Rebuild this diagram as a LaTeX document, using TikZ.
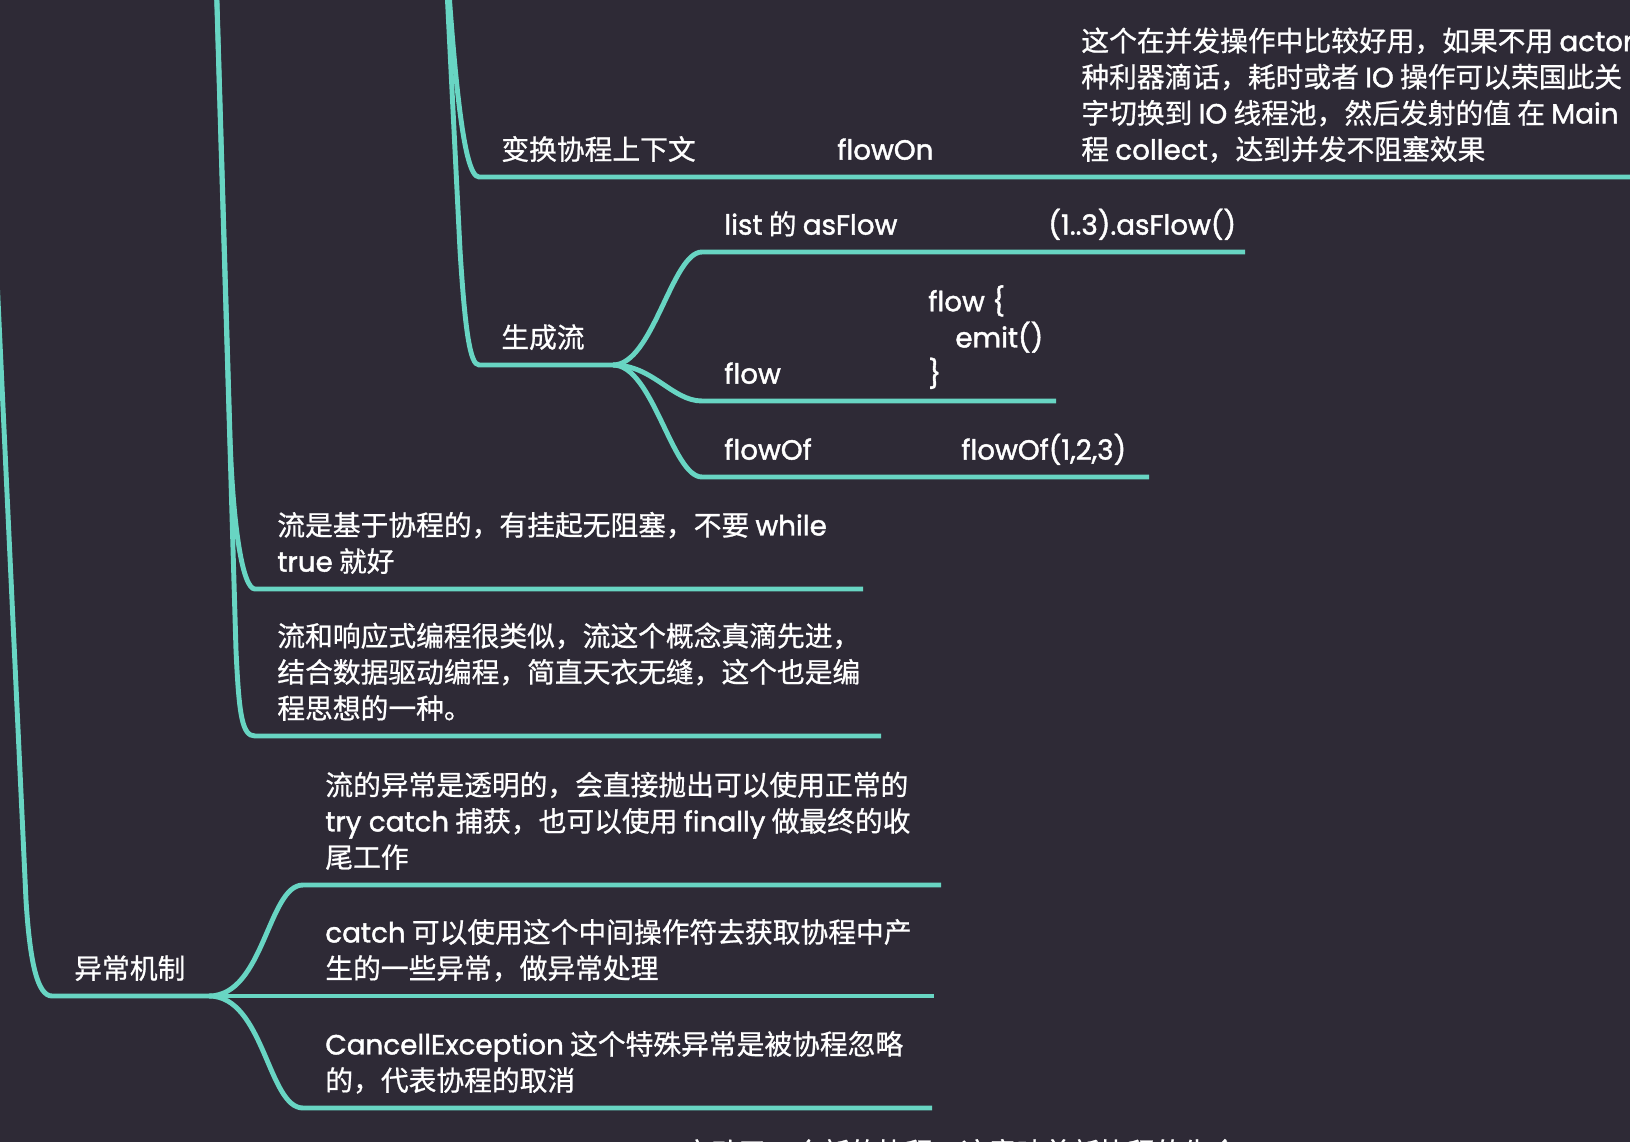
\documentclass[tikz,border=0pt]{standalone}
\usepackage{fontspec}
\setmainfont{Noto Sans CJK SC}[FakeBold=0.8]
\newfontfamily\latfont{Poppins}[FakeBold=1.5]
\newcommand\lat[1]{{\latfont #1}}
\definecolor{mapbg}{HTML}{2E2A36}
\definecolor{mapline}{HTML}{68D5C3}

\begin{document}
\begin{tikzpicture}[x=0.02cm,y=-0.02cm,
  topic/.style={anchor=south west,inner xsep=0.44cm,inner ysep=0.34cm,
    text depth=0pt,align=left,text=white,
    font=\fontsize{15.8}{20.6}\selectfont},
  branch/.style={draw=mapline,line width=2.8pt}]
%Background first, then every topic sits on its own underline;
% the branches come down from parents above the page, so
% their upper ends are plain coordinates (pa), (pb), (pc).
\fill[mapbg] (0,0) rectangle (1630,1142);
\useasboundingbox (0,0) rectangle (1630,1142);
\clip (0,0) rectangle (1630,1142);
\coordinate (pa) at (-44,-600);
\coordinate (pb) at (199,-600);
\coordinate (pc) at (440,-150);
\coordinate (ex) at (209,996);
\coordinate (gen) at (613,365);

% third branch: context and building a flow
\node[topic] (nctx) at (479,177) {变换协程上下文};
\node[topic] (non) at (815,177) {\lat{flowOn}};
\node[topic] (ndesc) at (1059,177) {这个在并发操作中比较好用，如果不用 \lat{actor}\\
  种利器滴话，耗时或者 \lat{IO} 操作可以荣国此关\\
  字切换到 \lat{IO} 线程池，然后发射的值 在 \lat{Main}\\
  程 \lat{collect}，达到并发不阻塞效果};
\node[topic] (ngen) at (479,365) {生成流};
\node[topic] (nlist) at (702,252) {\lat{list} 的 \lat{asFlow}};
\node[topic] (nlistx) at (1026,252) {\lat{(1..3).asFlow()}};
\node[topic] (nflow) at (702,401) {\lat{flow}};
\node[topic] (nflowx) at (906,401) {\lat{flow \{}\\
  \hspace*{0.54cm}\lat{emit()}\\
  \lat{\}}};
\node[topic] (nof) at (702,477) {\lat{flowOf}};
\node[topic] (nofx) at (939,477) {\lat{flowOf(1,2,3)}};

% second branch
\node[topic] (nf1) at (255,589) {流是基于协程的，有挂起无阻塞，不要 \lat{while}\\
  \lat{true} 就好};
\node[topic] (nf2) at (255,736) {流和响应式编程很类似，流这个概念真滴先进，\\
  结合数据驱动编程，简直天衣无缝，这个也是编\\
  程思想的一种。};

% first branch: exceptions
\node[topic] (nyc) at (52,996) {异常机制};
\node[topic] (ne1) at (303,885) {流的异常是透明的，会直接抛出可以使用正常的\\
  \lat{try catch} 捕获，也可以使用 \lat{finally} 做最终的收\\
  尾工作};
\node[topic] (ne2) at (303,996) {\lat{catch} 可以使用这个中间操作符去获取协程中产\\
  生的一些异常，做异常处理};
\node[topic] (ne3) at (303,1108) {\lat{CancellException} 这个特殊异常是被协程忽略\\
  的，代表协程的取消};
\node[topic] (nlaunch) at (661,1180) {启动了一个新的协程，这意味着新协程的生命};

\draw[branch] (pc) .. controls (452,60) and (462,177) .. (nctx.south west) -- +(1250,0);
\draw[branch] (pc) -- (460,250) .. controls (465,330) and (470,365) .. (ngen.south west) -- (gen);
\draw[branch] (gen) .. controls +(40,0) and +(-30,0) .. (nlist.south west) -- +(543,0);
\draw[branch] (gen) .. controls +(40,0) and +(-30,0) .. (nflow.south west) -- +(354,0);
\draw[branch] (gen) .. controls +(40,0) and +(-30,0) .. (nof.south west) -- +(447,0);

\draw[branch] (pb) -- (230,437) .. controls (233,530) and (243,589) .. (nf1.south west) -- +(608,0);
\draw[branch] (pb) -- (236,650) .. controls (239,715) and (242,736) .. (nf2.south west) -- +(626,0);

\draw[branch] (pa) -- (26,900) .. controls (30,965) and (38,996) .. (nyc.south west) -- (ex);
\draw[branch] (ex) .. controls +(55,0) and +(-35,0) .. (ne1.south west) -- +(638,0);
\draw[branch] (ex) -- (ne2.south west) -- +(631,0);
\draw[branch] (ex) .. controls +(55,0) and +(-35,0) .. (ne3.south west) -- +(629,0);
\end{tikzpicture}
\end{document}
